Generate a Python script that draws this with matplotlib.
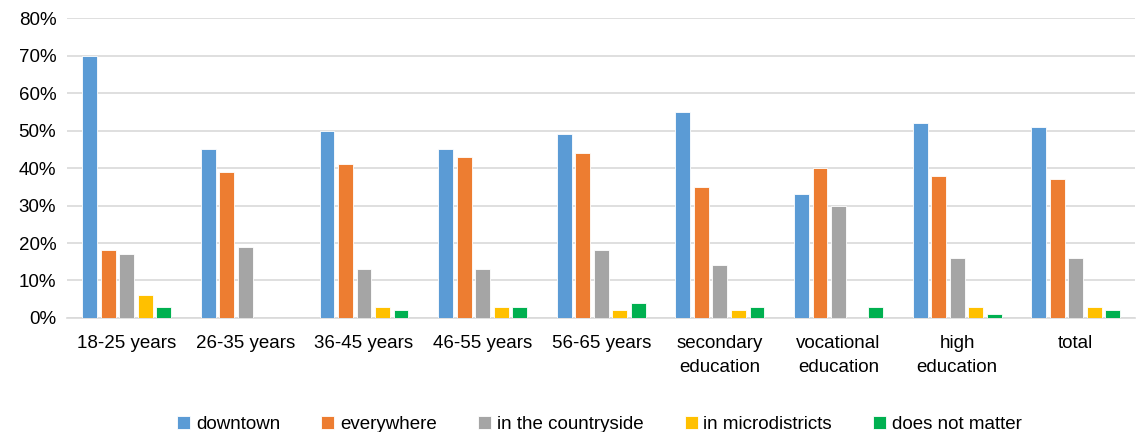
import numpy as np
import matplotlib.pyplot as plt
from matplotlib.ticker import PercentFormatter

plt.rcParams['font.family'] = ['Liberation Sans', 'DejaVu Sans']

categories = ['18-25 years', '26-35 years', '36-45 years', '46-55 years', '56-65 years',
              'secondary\neducation', 'vocational\neducation', 'high\neducation', 'total']
series_names = ['downtown', 'everywhere', 'in the countryside', 'in microdistricts', 'does not matter']
downtown = [70, 45, 50, 45, 49, 55, 33, 52, 51]
everywhere = [18, 39, 41, 43, 44, 35, 40, 38, 37]
countryside = [17, 19, 13, 13, 18, 14, 30, 16, 16]
microdistricts = [6, 0, 3, 3, 2, 2, 0, 3, 3]
no_matter = [3, 0, 2, 3, 4, 3, 3, 1, 2]
colors = ['#5B9BD5', '#ED7D31', '#A5A5A5', '#FFC000', '#00B050']

series = [downtown, everywhere, countryside, microdistricts, no_matter]

fig = plt.figure(figsize=(11.42, 4.32), dpi=100)
ax = fig.add_axes([0.059, 0.264, 0.935, 0.694])

x = np.arange(len(categories))
step = 0.156
width = 0.125
for i, (vals, name, c) in enumerate(zip(series, series_names, colors)):
    ax.bar(x + (i - 2) * step, np.array(vals) / 100, width, color=c, label=name,
           edgecolor='white', linewidth=0.6, zorder=3)

ax.set_xlim(-0.5, len(categories) - 0.5)
ax.set_ylim(0, 0.8)
ax.set_yticks(np.arange(0, 0.81, 0.1))
ax.yaxis.set_major_formatter(PercentFormatter(1.0, decimals=0))
ax.grid(axis='y', color='#d9d9d9', linewidth=1.2, zorder=0)
ax.set_xticks(x)
ax.set_xticklabels(categories, fontsize=13.5, color='#000000', va='top', linespacing=1.55)
ax.tick_params(axis='y', labelsize=13.5, colors='#000000', length=0, pad=8)
ax.tick_params(axis='x', length=0, pad=12)
for s in ['top', 'right', 'left']:
    ax.spines[s].set_visible(False)
ax.spines['bottom'].set_color('#d9d9d9')
ax.spines['bottom'].set_linewidth(1.2)

fig.legend(loc='lower center', bbox_to_anchor=(0.525, -0.042), ncol=5, frameon=False,
           fontsize=13.5, handlelength=0.7, handleheight=0.7, handletextpad=0.3,
           columnspacing=2.2)

fig.savefig('out.png', dpi=100)
